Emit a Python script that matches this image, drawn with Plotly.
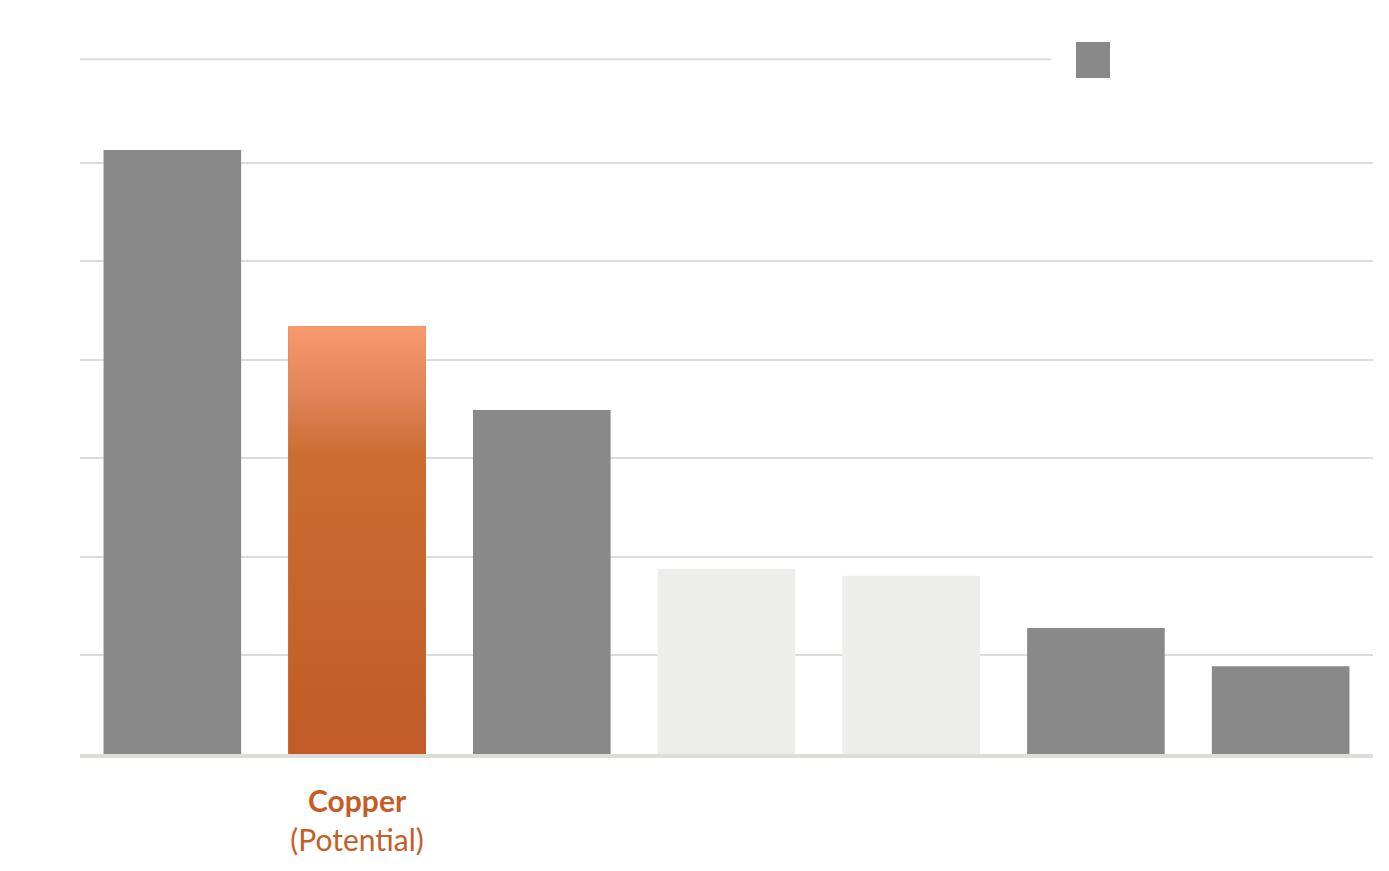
import plotly.graph_objects as go

# categories (only the copper one carries a visible label)
categories = ["", "<b>Copper</b><br>(Potential)", "", "", "", "", ""]
values = [6.13, 4.34, 3.49, 1.88, 1.81, 1.28, 0.89]
bar_colors = ["#888988", "#c65f29", "#888988", "#ededeb", "#ededeb", "#888988", "#888988"]
highlight = 1  # index of the copper bar

bar_w = 0.745
xs = list(range(len(values)))

fig = go.Figure()

fig.add_trace(go.Bar(
    x=xs, y=values, width=bar_w,
    marker=dict(color=bar_colors, line=dict(width=0)),
    showlegend=False, hoverinfo="skip",
))

# copper bar gets the vertical gradient on top of the plain bar
hx = highlight
hv = values[highlight]
fig.add_trace(go.Scatter(
    x=[hx - bar_w / 2, hx + bar_w / 2, hx + bar_w / 2, hx - bar_w / 2, hx - bar_w / 2],
    y=[0, 0, hv, hv, 0],
    mode="lines", line=dict(width=0), fill="toself",
    fillgradient=dict(
        type="vertical",
        colorscale=[[0, "#c25b27"], [0.7, "#cb6d33"], [0.85, "#e0865a"], [1, "#f89a6d"]],
    ),
    showlegend=False, hoverinfo="skip",
))

# shortened top gridline and legend swatch
fig.add_shape(type="line", xref="paper", yref="y", x0=0, x1=0.751, y0=7.05, y1=7.05,
              line=dict(color="#dcdcd8", width=2), layer="below")
fig.add_shape(type="rect", xref="paper", yref="paper", x0=0.7703, x1=0.7966, y0=0.9147, y1=0.9635,
              fillcolor="#888988", line=dict(width=0))

# the page body adds an 8px offset, so margins are shifted to compensate
fig.update_layout(
    width=1389, height=871,
    margin=dict(l=72, r=24, t=7, b=125),
    paper_bgcolor="white", plot_bgcolor="white",
    font=dict(family="Lato", color="#c45e28", size=30),
    showlegend=False,
)
fig.update_xaxes(
    range=[-0.5, len(values) - 0.5],
    tickvals=xs, ticktext=categories,
    showgrid=False, zeroline=False,
    showline=True, linecolor="#dcdcd8", linewidth=4,
    ticks="", ticklabelstandoff=18,
    tickfont=dict(family="Lato", size=30, color="#c45e28"),
)
fig.update_yaxes(
    range=[0, 7.5],
    tickvals=[1, 2, 3, 4, 5, 6],
    showticklabels=False,
    showgrid=True, gridcolor="#dcdcd8", gridwidth=2,
    zeroline=False, showline=False,
)

fig.write_html("out.html")
